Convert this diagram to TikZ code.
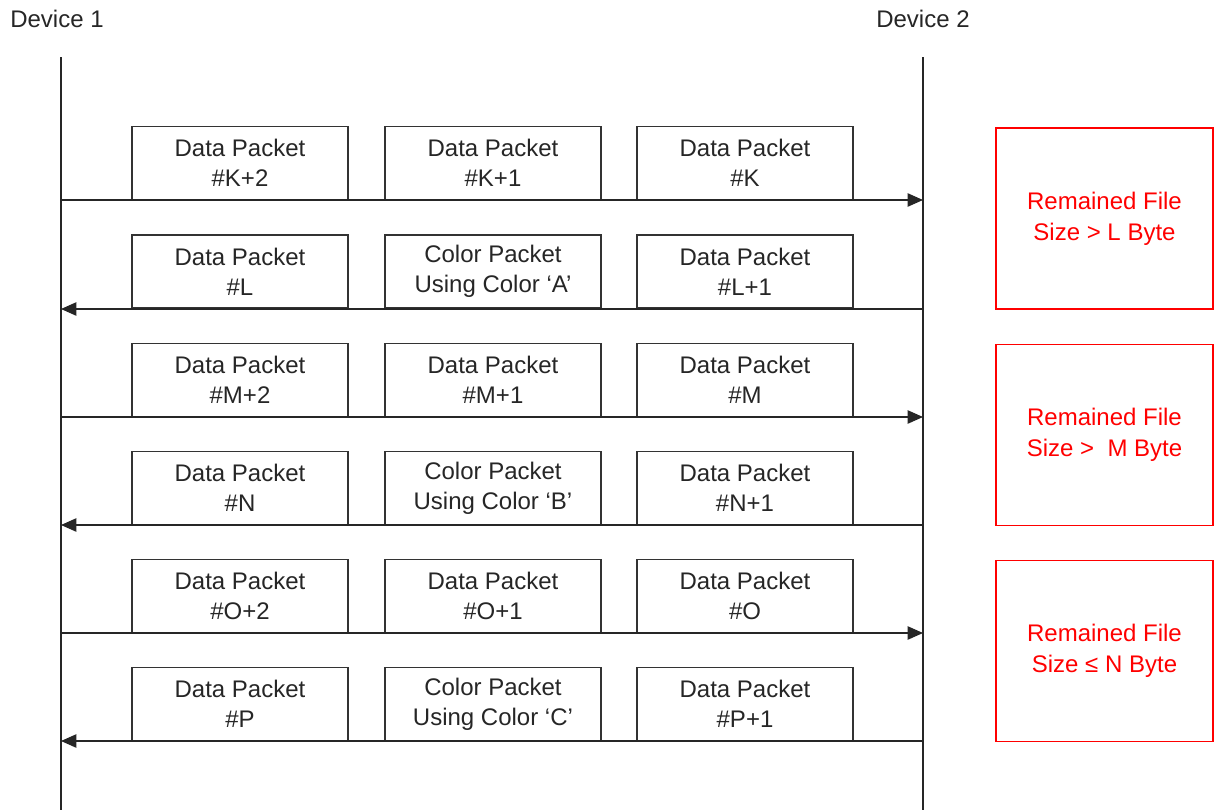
\documentclass[tikz,border=0pt]{standalone}
\usepackage{fontspec}
\setmainfont{Liberation Sans}
\usetikzlibrary{arrows.meta}
\begin{document}
\begin{tikzpicture}[x=0.75pt,y=-0.75pt,
  pkt/.style={draw=black!80,line width=0.9pt,minimum width=216*0.75pt,minimum height=72*0.75pt,
    inner sep=0pt,align=center,font=\fontsize{18}{22.5}\selectfont,text=black!85},
  cond/.style={draw=red,line width=0.9pt,minimum width=217*0.75pt,minimum height=181*0.75pt,
    inner sep=0pt,align=center,font=\fontsize{18}{23}\selectfont,text=red},
  life/.style={draw=black!85,line width=1pt},
  msg/.style={draw=black!85,line width=1pt,-{Triangle[length=11.5pt,width=10pt]}},
  lbl/.style={font=\fontsize{18}{22}\selectfont,text=black!85,inner sep=0pt,anchor=west}]
\useasboundingbox (0,0) rectangle (1217,810);
% device labels
\node[lbl] (d1) at (10,19) {Device 1};
\node[lbl] (d2) at (876,19) {Device 2};
% lifelines
\coordinate (l1t) at (61,57); \coordinate (l1b) at (61,810);
\coordinate (l2t) at (923,57); \coordinate (l2b) at (923,810);
\draw[life] (l1t) -- (l1b);
\draw[life] (l2t) -- (l2b);
% rows
\foreach \r/\y/\a/\b/\c in {
  1/163/{Data Packet\\\#K+2}/{Data Packet\\\#K+1}/{Data Packet\\\#K},
  2/271.5/{Data Packet\\\#L}/{Color Packet\\Using Color ‘A’}/{Data Packet\\\#L+1},
  3/380/{Data Packet\\\#M+2}/{Data Packet\\\#M+1}/{Data Packet\\\#M},
  4/488/{Data Packet\\\#N}/{Color Packet\\Using Color ‘B’}/{Data Packet\\\#N+1},
  5/596/{Data Packet\\\#O+2}/{Data Packet\\\#O+1}/{Data Packet\\\#O},
  6/704/{Data Packet\\\#P}/{Color Packet\\Using Color ‘C’}/{Data Packet\\\#P+1}}{
  \node[pkt,minimum height=73*0.75pt] (p\r a) at (240,\y) {\a};
  \node[pkt,minimum height=73*0.75pt] (p\r b) at (493,\y) {\b};
  \node[pkt,minimum height=73*0.75pt] (p\r c) at (745,\y) {\c};
}
% arrow coordinates
\foreach \r/\y in {1/200,2/309,3/417,4/525,5/633,6/741}{
  \coordinate (L\r) at (61,\y);
  \coordinate (R\r) at (923,\y);
}
\draw[msg] (L1) -- (R1);
\draw[msg] (R2) -- (L2);
\draw[msg] (L3) -- (R3);
\draw[msg] (R4) -- (L4);
\draw[msg] (L5) -- (R5);
\draw[msg] (R6) -- (L6);
% condition boxes
\node[cond] (c1) at (1104.5,218.5) {Remained File\\Size > L Byte};
\node[cond] (c2) at (1104.5,435) {Remained File\\Size >\ \ M Byte};
\node[cond] (c3) at (1104.5,651) {Remained File\\Size ≤ N Byte};
\end{tikzpicture}
\end{document}
